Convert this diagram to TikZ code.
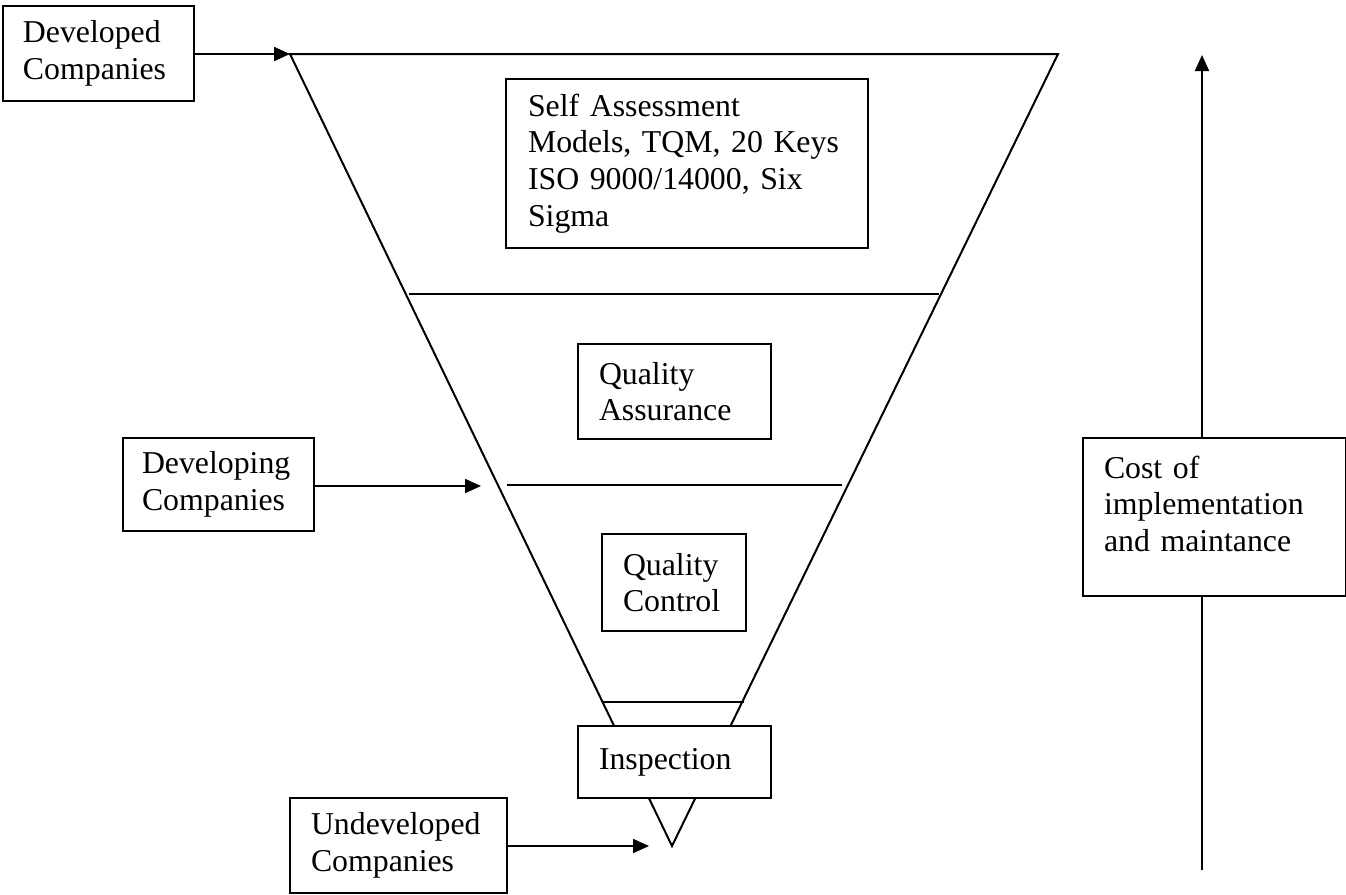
\documentclass[tikz,border=0pt]{standalone}
\usepackage{fontspec}
\setmainfont{Liberation Serif}
\usetikzlibrary{arrows.meta}
\begin{document}
\begin{tikzpicture}[x=1pt,y=-1pt,
  ink/.style={line width=2pt, line join=miter},
  tag/.style={ink, draw, fill=white, rectangle, anchor=north west, align=left,
    font=\fontsize{31.8pt}{36.6pt}\selectfont, inner ysep=0pt},
  arr/.style={ink, -{Triangle[length=16pt,width=14pt]}}]
\useasboundingbox (0,0) rectangle (1346,894);

% funnel corners
\coordinate (tl) at (290,54);
\coordinate (tr) at (1058,54);
\coordinate (ap) at (672,846);
\draw[ink] (tl) -- (tr) -- (ap) -- cycle;

% level dividers
\coordinate (d1a) at (409,294); \coordinate (d1b) at (939,294);
\coordinate (d2a) at (507,485); \coordinate (d2b) at (842,485);
\coordinate (d3a) at (603,702); \coordinate (d3b) at (744,702);
\draw[ink] (d1a) -- (d1b);
\draw[ink] (d2a) -- (d2b);
\draw[ink] (d3a) -- (d3b);

% level labels
\node[tag, inner xsep=22pt, text width=318pt, minimum height=169pt] (sa) at (505,78)
  {Self Assessment\\Models, TQM, 20 Keys\\ISO 9000/14000, Six\\Sigma};
\node[tag, inner xsep=21pt, text width=151pt, minimum height=95pt] (qa) at (577,343)
  {Quality\\Assurance};
\node[tag, inner xsep=21pt, text width=102pt, minimum height=97pt] (qc) at (601,533)
  {Quality\\Control};
\node[tag, inner xsep=21pt, text width=151pt, minimum height=72pt] (insp) at (577,725)
  {Inspection};

% company groups
\node[tag, inner xsep=20pt, text width=151pt, minimum height=95pt] (dev) at (2,5)
  {Developed\\Companies};
\node[tag, inner xsep=19pt, text width=153pt, minimum height=93pt] (dvg) at (122,437)
  {Developing\\Companies};
\node[tag, inner xsep=21pt, text width=175pt, minimum height=95pt] (und) at (289,797)
  {Undeveloped\\Companies};

\coordinate (dvgtip) at (481,486);
\coordinate (undtip) at (649,846);
\draw[arr] (dev.east |- tl) -- (tl);
\draw[arr] (dvg.east |- dvgtip) -- (dvgtip);
\draw[arr] (und.east |- undtip) -- (undtip);

% cost axis
\node[tag, inner xsep=21pt, text width=221pt, minimum height=158pt] (cost) at (1082,437)
  {Cost of\\implementation\\and maintance\\[-10pt]\mbox{}};
\coordinate (costtip) at (1202,55);
\coordinate (costbot) at (1202,870);
\draw[ink] (costbot) -- (cost.south -| costbot);
\draw[arr] (cost.north -| costtip) -- (costtip);
\end{tikzpicture}
\end{document}
